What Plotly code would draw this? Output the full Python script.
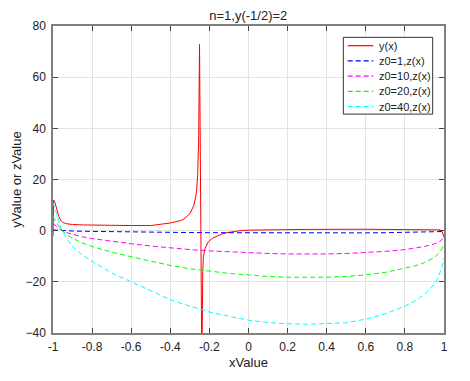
import plotly.graph_objects as go

# values
y_x = [-1.0, -0.997, -0.99, -0.98, -0.97, -0.96, -0.95, -0.93, -0.9, -0.85, -0.8, -0.7,
       -0.6, -0.5, -0.45, -0.4, -0.35, -0.333, -0.3, -0.29, -0.28, -0.27, -0.265, -0.26,
       -0.255, -0.2505, -0.2385, -0.234, -0.231, -0.222, -0.205, -0.185, -0.163, -0.14,
       -0.112, -0.08, -0.043, 0.0, 0.11, 0.3, 0.6, 0.9, 0.96, 0.98, 0.99, 1.0]
y_val = [-2.3, 12.0, 11.0, 8.0, 5.5, 4.0, 3.2, 2.7, 2.4, 2.25, 2.15, 2.05,
         2.0, 2.0, 2.4, 3.0, 3.9, 4.4, 6.6, 8.0, 9.8, 13.3, 16.0, 22.0,
         35.0, 72.8, -55.0, -16.0, -10.2, -6.9, -4.3, -3.0, -2.1, -1.4,
         -0.8, -0.35, 0.0, 0.2, 0.4, 0.5, 0.55, 0.55, 0.5, 0.3, -0.3, -2.5]

z_x = [-1.0, -0.98, -0.956, -0.93, -0.9, -0.85, -0.8, -0.7, -0.6, -0.5, -0.4, -0.3,
       -0.2, -0.1, 0.0, 0.1, 0.2, 0.3, 0.4, 0.5, 0.6, 0.7, 0.8, 0.85, 0.9, 0.95,
       0.97, 0.99, 1.0]
z1 = [0.28, 0.14, 0.0, -0.08, -0.15, -0.23, -0.3, -0.41, -0.5, -0.6, -0.68, -0.74,
      -0.79, -0.83, -0.86, -0.89, -0.91, -0.92, -0.91, -0.9, -0.86, -0.8, -0.74, -0.69,
      -0.62, -0.52, -0.46, -0.35, -0.26]
z10 = [2.8, 1.4, 0.1, -0.8, -1.5, -2.4, -3.1, -4.2, -5.1, -6.0, -6.8, -7.4,
       -7.9, -8.3, -8.6, -8.9, -9.1, -9.15, -9.1, -8.9, -8.6, -8.1, -7.4, -6.9,
       -6.2, -5.2, -4.6, -3.5, -2.6]
z20 = [5.5, 2.8, 0.2, -1.5, -3.0, -4.8, -6.2, -8.4, -10.2, -12.0, -13.6, -14.9,
       -15.9, -16.7, -17.3, -17.9, -18.2, -18.3, -18.2, -17.9, -17.3, -16.3, -14.8, -13.8,
       -12.5, -10.5, -9.2, -7.0, -5.2]
z40 = [11.0, 6.0, 0.3, -3.0, -6.3, -9.5, -12.0, -16.5, -20.0, -23.5, -27.0, -29.5,
       -31.8, -33.5, -35.0, -35.9, -36.4, -36.6, -36.4, -36.0, -34.6, -32.5, -29.5, -27.5,
       -25.0, -21.0, -18.5, -14.0, -10.8]

x_ticks = [-1, -0.8, -0.6, -0.4, -0.2, 0, 0.2, 0.4, 0.6, 0.8, 1]
x_labels = ["-1", "-0.8", "-0.6", "-0.4", "-0.2", "0", "0.2", "0.4", "0.6", "0.8", "1"]
y_ticks = [-40, -20, 0, 20, 40, 60, 80]

DASH = "5px,3px"
series = [("y(x)", y_x, y_val, "#ff0000", "solid"),
          ("z0=1,z(x)", z_x, z1, "#0000ff", DASH),
          ("z0=10,z(x)", z_x, z10, "#ff00ff", DASH),
          ("z0=20,z(x)", z_x, z20, "#00ff00", DASH),
          ("z0=40,z(x)", z_x, z40, "#00ffff", DASH)]

fig = go.Figure()
for name, xs, ys, color, dash in series:
    fig.add_trace(go.Scatter(x=xs, y=ys, mode="lines", name=name, showlegend=False,
                             line={"color": color, "width": 1, "dash": dash}))

# legend box drawn by hand (octave-style compact legend)
fig.add_shape(type="rect", xref="paper", yref="paper", x0=0.7425, x1=0.971, y0=0.713, y1=0.963,
              line={"color": "#333333", "width": 1}, fillcolor="white", layer="above")
legend_rows = [0.9358, 0.8862, 0.8365, 0.7868, 0.7371]
for ly, (name, xs, ys, color, dash) in zip(legend_rows, series):
    fig.add_shape(type="line", xref="paper", yref="paper", x0=0.7537, x1=0.8192, y0=ly, y1=ly,
                  line={"color": color, "width": 1.2, "dash": dash}, layer="above")
    fig.add_annotation(text=name, xref="paper", yref="paper", x=0.8279, y=ly,
                       xanchor="left", yanchor="middle", showarrow=False,
                       font={"size": 11, "color": "#222222"})

axis_style = {"showline": True, "linecolor": "#7f7f7f", "linewidth": 1.5, "mirror": "ticks",
              "ticks": "inside", "ticklen": 5, "tickcolor": "#444444",
              "showgrid": True, "gridcolor": "#e3e3e3", "gridwidth": 1,
              "zeroline": False, "automargin": False,
              "tickfont": {"size": 12, "color": "#222222"}}

fig.update_layout(
    width=470, height=381,
    margin={"l": 53, "r": 26, "t": 26, "b": 48},
    paper_bgcolor="white", plot_bgcolor="white",
    font={"family": "Liberation Sans, Arial, sans-serif", "color": "#222222"},
    title={"text": "n=1,y(-1/2)=2", "x": 0.5283, "xanchor": "center", "y": 0.96,
           "yanchor": "middle", "font": {"size": 13, "color": "#222222"}},
    xaxis={**axis_style, "range": [-1, 1], "tickvals": x_ticks, "ticktext": x_labels,
           "ticklabelstandoff": 2,
           "title": {"text": "xValue", "font": {"size": 13}, "standoff": 5}},
    yaxis={**axis_style, "range": [-40, 80], "tickvals": y_ticks, "ticklabelstandoff": 3,
           "title": {"text": "yValue or zValue", "font": {"size": 13}, "standoff": 1}},
    showlegend=False,
)

# page body has a default 8px margin; drop it so the figure sits at the window origin
fig.write_html("out.html", config={"displayModeBar": False},
               post_script="document.body.style.margin='0px';")
